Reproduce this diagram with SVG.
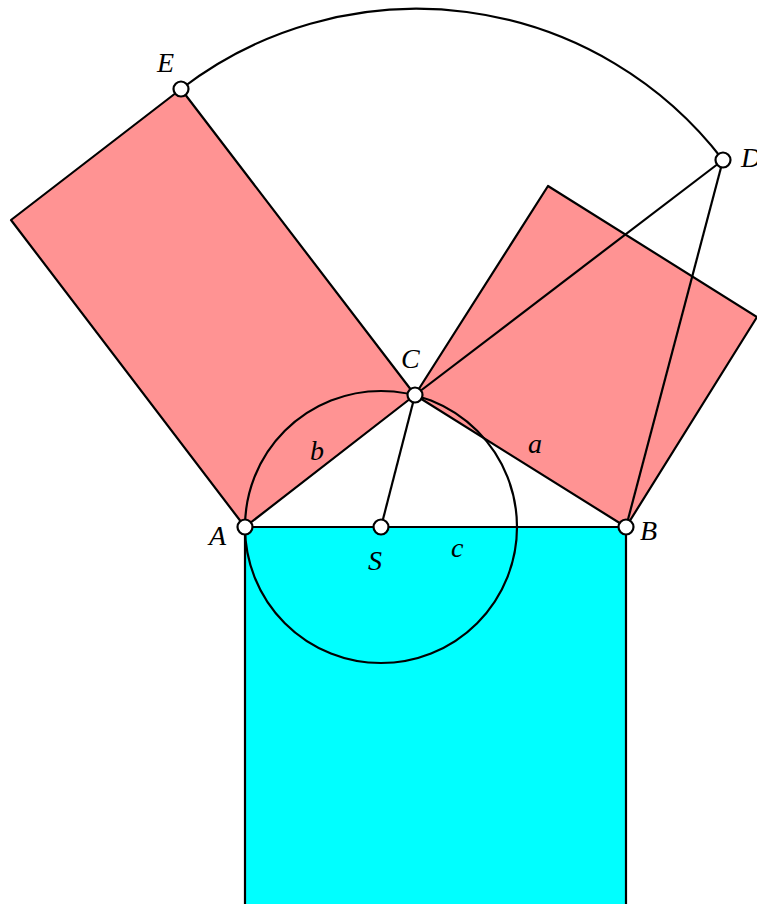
<svg xmlns="http://www.w3.org/2000/svg" width="757" height="904" viewBox="0 0 757 904">
<style>
.sh{stroke:#000;stroke-width:2.2;stroke-linejoin:round}
.ln{stroke:#000;stroke-width:2.2;fill:none}
.pt{fill:#fff;stroke:#000;stroke-width:2.2}
text{font-family:"Liberation Serif","Times New Roman",serif;font-style:italic;font-size:28px;fill:#000}
</style>
<rect width="757" height="904" fill="#fff"/>
<g id="square-c"><polygon class="sh" fill="#00FFFF" points="245,527 626,527 626,908 245,908"/></g>
<g id="rect-b"><polygon class="sh" fill="#FF9393" points="245,527 415,395 181,89 11,220"/></g>
<g id="square-a"><polygon class="sh" fill="#FF9393" points="415,395 626,527 757,317 548,186"/></g>
<g id="connectors">
<circle class="ln" cx="381" cy="527" r="136"/>
<path class="ln" d="M181,89 A386,386 0 0 1 723,160"/>
<line class="ln" x1="415" y1="395" x2="723" y2="160"/>
<line class="ln" x1="723" y1="160" x2="626" y2="527"/>
<line class="ln" x1="415" y1="395" x2="381" y2="527"/>
</g>
<g id="point-A"><circle class="pt" cx="245" cy="527" r="7.5"/><text x="209" y="545">A</text></g>
<g id="point-B"><circle class="pt" cx="626" cy="527" r="7.5"/><text x="640" y="540">B</text></g>
<g id="point-C"><circle class="pt" cx="415" cy="395" r="7.5"/><text x="401" y="368">C</text></g>
<g id="point-D"><circle class="pt" cx="723" cy="160" r="7.5"/><text x="741" y="167">D</text></g>
<g id="point-E"><circle class="pt" cx="181" cy="89" r="7.5"/><text x="157" y="72">E</text></g>
<g id="point-S"><circle class="pt" cx="381" cy="527" r="7.5"/><text x="368" y="570">S</text></g>
<g id="labels">
<text x="451" y="557">c</text>
<text x="310" y="460">b</text>
<text x="528" y="453">a</text>
</g>
</svg>
